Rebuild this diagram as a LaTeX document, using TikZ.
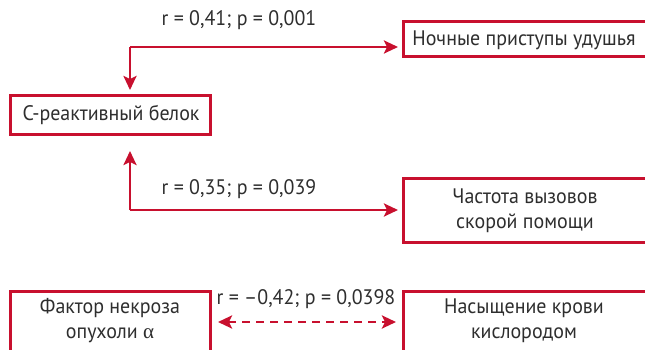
\documentclass[tikz,border=0pt]{standalone}
\usepackage{fontspec}
\setmainfont[FakeStretch=0.95]{PT Sans}
\newfontfamily\greekserif{Liberation Serif}
\usetikzlibrary{arrows.meta}
\definecolor{myred}{HTML}{C8102E}
\definecolor{mytext}{HTML}{2E2E2E}
\tikzset{
  box/.style={draw=myred, line width=3pt, fill=white},
  lbl/.style={text=mytext, font=\fontsize{21}{25}\selectfont, inner sep=0pt},
  tip/.tip={Stealth[length=14pt,width=13pt,inset=3pt]},
  conn/.style={draw=myred, line width=2.6pt, -tip},
}
\begin{document}
\begin{tikzpicture}[x=1pt,y=-1pt]
\useasboundingbox (0,0) rectangle (645,350);
\begin{scope}
\clip (0,0) rectangle (645,350);
% boxes
\draw[box] (403,22) rectangle (700,57);
\node[lbl] (noct) at (524,40) {Ночные приступы удушья};
\draw[box] (10,96) rectangle (210,135);
\node[lbl] (crp) at (111,115) {С-реактивный белок};
\draw[box] (403,178) rectangle (700,242);
\node[lbl, align=center] (amb) at (525,211) {Частота вызовов\\скорой помощи};
\draw[box] (10,291) rectangle (210,380);
\node[lbl, align=center] (tnf) at (110,321) {Фактор некроза\\опухоли {\greekserif α}};
\draw[box] (403,291) rectangle (700,380);
\node[lbl, align=center] (sat) at (524,321) {Насыщение крови\\кислородом};
% anchors
\coordinate (a1) at (130,47);
\coordinate (a1t) at (398,47);
\coordinate (a1b) at (130,90);
\coordinate (a2) at (130,210);
\coordinate (a2t) at (398,210);
\coordinate (a2b) at (130,151);
\coordinate (d1) at (218,322);
\coordinate (d2) at (396,322);
% connectors
\draw[conn] (a1) -- (a1t);
\draw[conn] (a1) -- (a1b);
\draw[conn] (a2) -- (a2t);
\draw[conn] (a2) -- (a2b);
\draw[conn, tip-tip, line width=2.8pt, dash pattern=on 8pt off 6pt] (d1) -- (d2);
% labels
\node[lbl] (l1) at (239,20) {r = 0,41; p = 0,001};
\node[lbl] (l2) at (239,189) {r = 0,35; p = 0,039};
\node[lbl] (l3) at (306,299) {r = –0,42; p = 0,0398};
\end{scope}
\end{tikzpicture}
\end{document}
